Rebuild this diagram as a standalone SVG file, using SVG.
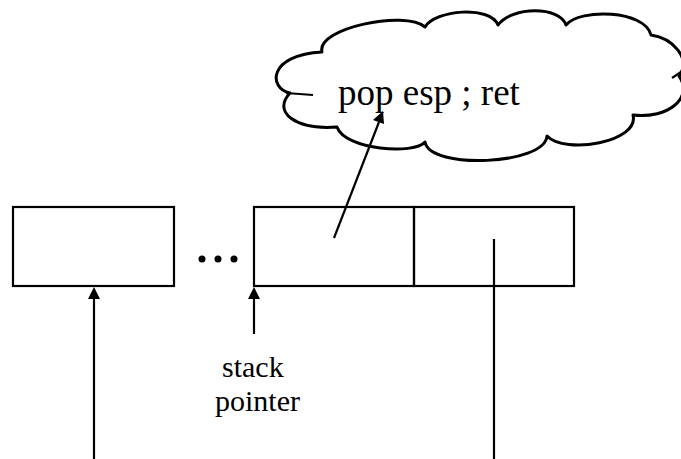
<svg xmlns="http://www.w3.org/2000/svg" width="681" height="459" viewBox="0 0 681 459">
<style>
.box{fill:none;stroke:#000;stroke-width:2.2}
.ln{fill:none;stroke:#000;stroke-width:2.2}
.cloud{fill:#fff;stroke:#000;stroke-width:3;stroke-linejoin:round}
.t{font-family:"Liberation Serif","Times New Roman",serif;fill:#000}
</style>
<g id="cloud">
<path class="cloud" d="M322 52 C316 28 405 10 425 27 C435 10 490 5 498 25 C512 6 560 6 566 25 C580 8 645 10 651 35 C672 38 692 58 679 76 C694 98 668 119 633 115 C640 142 565 155 547 136 C545 165 430 170 425 142 C415 155 345 150 337 127 C295 130 272 112 290 93 C268 88 268 55 322 52 Z"/>
<path class="ln" d="M286 93 Q300 94 313 95"/>
<path class="ln" d="M672 78 L681 72"/>
<text class="t" x="338" y="105" font-size="37">pop esp ; ret</text>
</g>
<g id="box1"><rect class="box" x="13" y="207" width="161" height="79"/></g>
<g id="dots">
<circle cx="202" cy="259" r="3.5"/><circle cx="218" cy="259" r="3.5"/><circle cx="234" cy="259" r="3.5"/>
</g>
<g id="box2"><rect class="box" x="254" y="207" width="160" height="79"/></g>
<g id="box3"><rect class="box" x="414" y="207" width="160" height="79"/></g>
<g id="label"><text class="t" font-size="30"><tspan x="222" y="377">stack</tspan><tspan x="215" y="411">pointer</tspan></text></g>
<g id="connectors">
<line class="ln" x1="94" y1="459" x2="94" y2="299"/>
<path d="M88 299 L94 287 L100 299 Z"/>
<line class="ln" x1="254" y1="334" x2="254" y2="299"/>
<path d="M248 299 L254 287 L260 299 Z"/>
<line class="ln" x1="494" y1="239" x2="494" y2="459"/>
<line class="ln" x1="334" y1="238" x2="379" y2="122"/>
<path d="M373 120 L383 111 L384 124 Z"/>
</g>
</svg>
